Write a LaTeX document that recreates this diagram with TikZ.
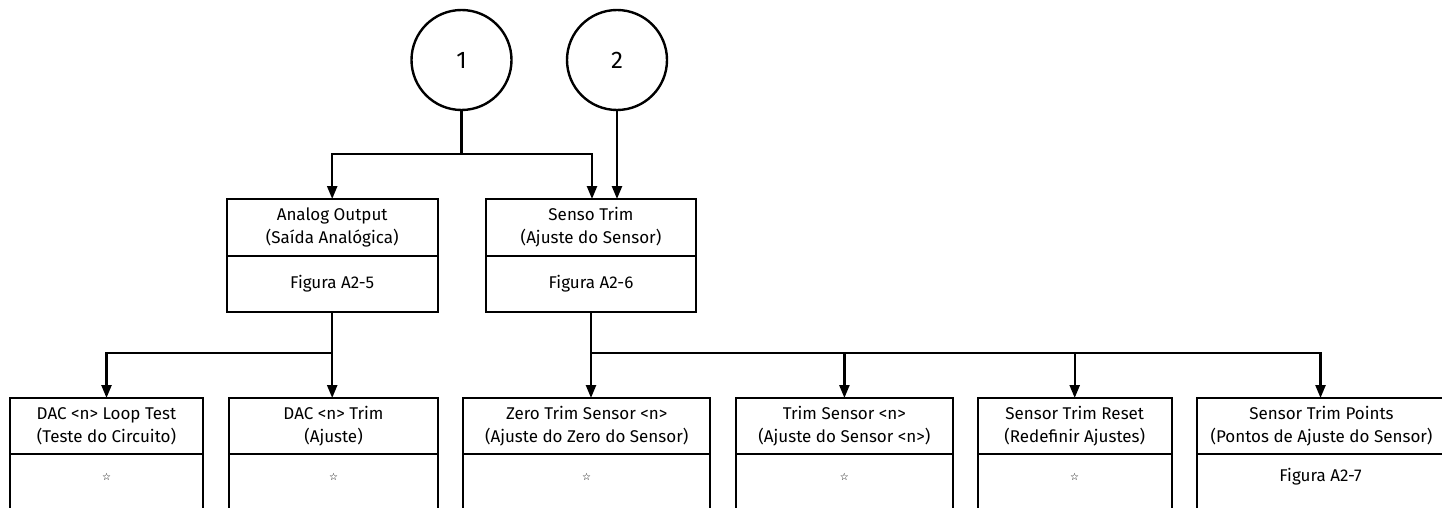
\documentclass[tikz,border=0pt]{standalone}
\usepackage{fontspec}
\setmainfont{Fira Sans}
\newfontfamily\symfont{DejaVu Sans}
\usetikzlibrary{arrows.meta}
\begin{document}
\begin{tikzpicture}[x=1pt,y=-1pt,
  line width=2.4pt,
  every node/.style={inner sep=0pt,outer sep=0pt},
  hdr/.style={draw,rectangle,minimum height=57pt,align=center,font=\fontsize{17}{23}\selectfont},
  bdy/.style={draw,rectangle,align=center,font=\fontsize{17}{23}\selectfont},
  circ/.style={draw,circle,minimum size=100pt,font=\fontsize{24}{28}\selectfont},
  arr/.style={-{Triangle[length=13pt,width=10pt]}},
  starmark/.style={font=\symfont\fontsize{10}{11}\selectfont}]
\useasboundingbox (0,0) rectangle (1442,508);
\clip (0,0) rectangle (1442,508);
% circles
\node[circ] (c1) at (461.5,60) {1};
\node[circ] (c2) at (617,60) {2};
% top boxes
\node[hdr,minimum width=211pt,minimum height=57pt] (t1) at (332.2,227.5) {Analog Output\\(Saída Analógica)};
\node[bdy,minimum width=211pt,minimum height=56pt,anchor=north] (t1b) at (t1.south) {Figura A2-5};
\node[hdr,minimum width=210pt,minimum height=57pt] (t2) at (591,227.5) {Senso Trim\\(Ajuste do Sensor)};
\node[bdy,minimum width=210pt,minimum height=56pt,anchor=north] (t2b) at (t2.south) {Figura A2-6};
% bottom boxes
\node[hdr,minimum width=193pt,minimum height=56pt] (b1) at (106.5,426) {DAC <n> Loop Test\\(Teste do Circuito)};
\node[bdy,minimum width=193pt,minimum height=80pt,anchor=north] (b1b) at (b1.south) {};
\node[hdr,minimum width=209pt,minimum height=56pt] (b2) at (333.5,426) {DAC <n> Trim\\(Ajuste)};
\node[bdy,minimum width=209pt,minimum height=80pt,anchor=north] (b2b) at (b2.south) {};
\node[hdr,minimum width=247pt,minimum height=56pt] (b3) at (586.7,426) {Zero Trim Sensor <n>\\(Ajuste do Zero do Sensor)};
\node[bdy,minimum width=247pt,minimum height=80pt,anchor=north] (b3b) at (b3.south) {};
\node[hdr,minimum width=217pt,minimum height=56pt] (b4) at (844.4,426) {Trim Sensor <n>\\(Ajuste do Sensor <n>)};
\node[bdy,minimum width=217pt,minimum height=80pt,anchor=north] (b4b) at (b4.south) {};
\node[hdr,minimum width=194pt,minimum height=56pt] (b5) at (1074.7,426) {Sensor Trim Reset\\(Redefinir Ajustes)};
\node[bdy,minimum width=194pt,minimum height=80pt,anchor=north] (b5b) at (b5.south) {};
\node[hdr,minimum width=249pt,minimum height=56pt] (b6) at (1321.5,426) {Sensor Trim Points\\(Pontos de Ajuste do Sensor)};
\node[bdy,minimum width=249pt,minimum height=80pt,anchor=north] (b6b) at (b6.south) {};
% body texts
\node[starmark] (s1) at (106.5,476.7) {☆};
\node[starmark] (s2) at (333.5,476.7) {☆};
\node[starmark] (s3) at (586.7,476.7) {☆};
\node[starmark] (s4) at (844.4,476.7) {☆};
\node[starmark] (s5) at (1074.7,476.7) {☆};
\node[font=\fontsize{17}{23}\selectfont] (f7) at (1320.5,476.7) {Figura A2-7};
% connectors
\coordinate (j1) at (461.5,154);
\coordinate (j1l) at (332.2,154);
\coordinate (j1r) at (592,154);
\draw (c1.south) -- (j1);
\draw[arr] (j1) -- (j1r) -- (592,199);
\draw[arr] (j1) -- (j1l) -- (t1.north);
\draw[arr] (c2.south) -- (617,199);
\coordinate (j2) at (332.2,353);
\draw (t1b.south) -- (j2);
\draw[arr] (j2) -- (106.5,353) -- (106.5,398);
\draw[arr] (j2) -- (332.2,398);
\coordinate (j3) at (591,353);
\draw (t2b.south) -- (j3);
\draw[arr] (j3) -- (591,398);
\draw[arr] (j3) -| (b4.north);
\draw[arr] (j3) -| (b5.north);
\draw[arr] (j3) -| (1320.5,398);
\end{tikzpicture}
\end{document}
